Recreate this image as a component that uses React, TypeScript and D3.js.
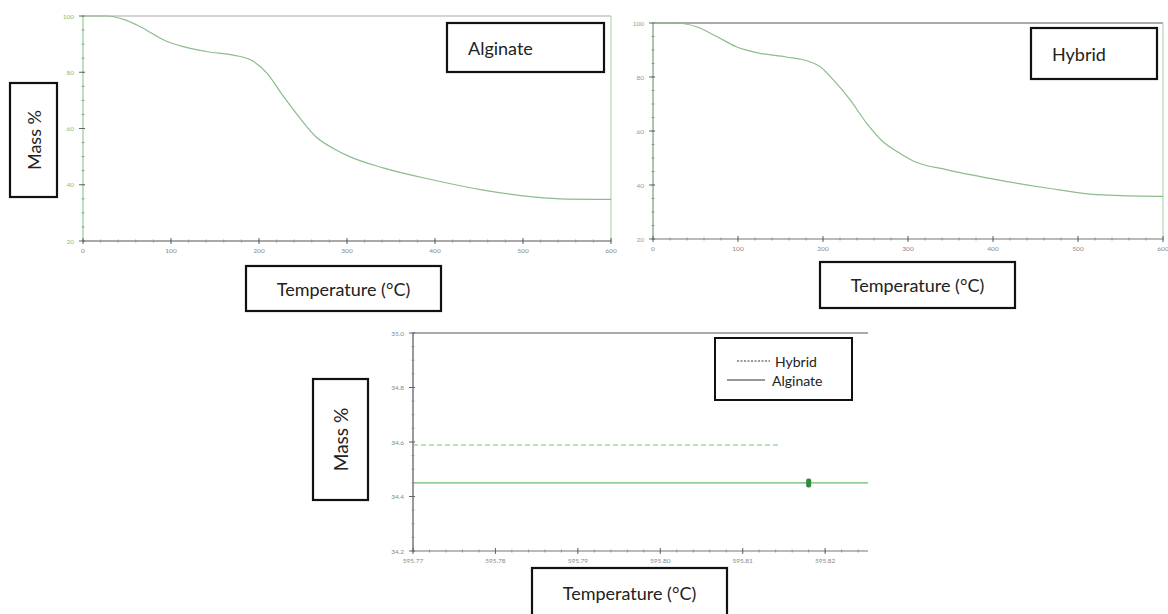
import React from "react";
import * as d3 from "d3";

// ---------- data ----------
const alginateTemp = [0, 27, 48, 65, 95, 114, 141, 171, 193, 209, 228, 247, 265, 284, 303, 341, 398, 455, 511, 550, 600];
const alginateMass = [100, 100, 98.6, 96.2, 91, 89.1, 87.3, 86.1, 84, 79.7, 71.3, 63.5, 57, 53, 50, 46, 41.7, 38.1, 35.7, 34.9, 34.8];

const hybridTemp = [0, 28, 51, 75, 98, 122, 157, 181, 196, 212, 232, 251, 269, 289, 306, 345, 404, 463, 522, 593, 600];
const hybridMass = [100, 100, 98.6, 95, 91.2, 89, 87.4, 86, 84, 79, 71.5, 63, 56.5, 52, 48.9, 45.7, 42, 38.9, 36.4, 35.8, 35.8];

const zoomHybridTemp = [595.77, 595.8143];
const zoomHybridMass = [34.589, 34.589];
const zoomAlginateTemp = [595.77, 595.8252];
const zoomAlginateMass = [34.45, 34.45];
const zoomMarkerTemp = [595.818];
const zoomMarkerMass = [34.45];

const tempTicks = [0, 100, 200, 300, 400, 500, 600];
const massTicks = [20, 40, 60, 80, 100];
const zoomTempTicks = [595.77, 595.78, 595.79, 595.8, 595.81, 595.82];
const zoomMassTicks = [34.2, 34.4, 34.6, 34.8, 35.0];

const legendLabels = ["Hybrid", "Alginate"];

const FONT = "Lato, 'Open Sans', sans-serif";
const CURVE = "#8cbc8c";

type PanelProps = {
  x0: number; x1: number; y0: number; y1: number;
  xDomain: [number, number]; yDomain: [number, number];
  xTicks: number[]; yTicks: number[];
  xMinorStep: number; yMinorStep: number;
  xFmt: (v: number) => string; yFmt: (v: number) => string;
  leftColor: string; bottomColor: string; topColor: string; topWidth: number;
  rightColor?: string; yLabelColor: string;
  children: (x: d3.ScaleLinear<number, number>, y: d3.ScaleLinear<number, number>) => React.ReactNode;
};

function Panel(p: PanelProps) {
  const x = d3.scaleLinear().domain(p.xDomain).range([p.x0, p.x1]);
  const y = d3.scaleLinear().domain(p.yDomain).range([p.y1, p.y0]);
  const xMinor = d3.range(p.xDomain[0], p.xDomain[1] + 1e-9, p.xMinorStep);
  const yMinor = d3.range(p.yDomain[0], p.yDomain[1] + 1e-9, p.yMinorStep);
  return (
    <g>
      <line x1={p.x0} x2={p.x1} y1={p.y0} y2={p.y0} stroke={p.topColor} strokeWidth={p.topWidth} />
      {p.rightColor && <line x1={p.x1} x2={p.x1} y1={p.y0} y2={p.y1} stroke={p.rightColor} strokeWidth={1} />}
      <line x1={p.x0} x2={p.x0} y1={p.y0} y2={p.y1} stroke={p.leftColor} strokeWidth={1.2} />
      <line x1={p.x0} x2={p.x1} y1={p.y1} y2={p.y1} stroke={p.bottomColor} strokeWidth={1.2} />
      {xMinor.map((v, i) => (
        <line key={"xm" + i} x1={x(v)} x2={x(v)} y1={p.y1 - 1.5} y2={p.y1 + 1.5} stroke="#888" strokeWidth={0.8} />
      ))}
      {yMinor.map((v, i) => (
        <line key={"ym" + i} x1={p.x0 - 1.5} x2={p.x0 + 1.5} y1={y(v)} y2={y(v)} stroke="#888" strokeWidth={0.8} />
      ))}
      {p.xTicks.map((v, i) => (
        <g key={"xt" + i}>
          <line x1={x(v)} x2={x(v)} y1={p.y1 - 3} y2={p.y1 + 3} stroke="#666" strokeWidth={1} />
          <text x={x(v)} y={p.y1 + 12} fontSize={6.5} fill="#888" textAnchor="middle" fontFamily={FONT}>{p.xFmt(v)}</text>
        </g>
      ))}
      {p.yTicks.map((v, i) => (
        <g key={"yt" + i}>
          <line x1={p.x0 - 4} x2={p.x0 + 2} y1={y(v)} y2={y(v)} stroke="#666" strokeWidth={1} />
          <text x={p.x0 - 9} y={y(v) + 2.5} fontSize={6.5} fill={p.yLabelColor} textAnchor="end" fontFamily={FONT}>{p.yFmt(v)}</text>
        </g>
      ))}
      {p.children(x, y)}
    </g>
  );
}

function Box({ x, y, w, h, text, rotate = false, size = 18, padLeft }: { x: number; y: number; w: number; h: number; text: string; rotate?: boolean; size?: number; padLeft?: number }) {
  const cx = x + w / 2, cy = y + h / 2;
  const left = padLeft !== undefined;
  return (
    <g>
      <rect x={x} y={y} width={w} height={h} fill="#fff" stroke="#111" strokeWidth={2.2} />
      <text
        x={left ? x + (padLeft as number) : cx} y={cy} fontSize={size} fontFamily={FONT} fill="#222"
        textAnchor={left ? "start" : "middle"} dominantBaseline="central"
        transform={rotate ? `rotate(-90 ${cx} ${cy})` : undefined}
      >{text}</text>
    </g>
  );
}

function linePath(xs: number[], ys: number[], x: d3.ScaleLinear<number, number>, y: d3.ScaleLinear<number, number>, curved = true) {
  const pts = xs.map((t, i) => [t, ys[i]] as [number, number]);
  const gen = d3.line<[number, number]>().x((d) => x(d[0])).y((d) => y(d[1]));
  if (curved) gen.curve(d3.curveMonotoneX);
  return gen(pts) || "";
}

export default function App() {
  return (
    <div style={{ position: "absolute", left: 0, top: 0 }}>
      <svg width={1168} height={614} style={{ display: "block", background: "#fff" }}>
        <Panel
          x0={83} x1={611} y0={16} y1={241}
          xDomain={[0, 600]} yDomain={[20, 100]}
          xTicks={tempTicks} yTicks={massTicks} xMinorStep={20} yMinorStep={5}
          xFmt={(v) => String(v)} yFmt={(v) => String(v)}
          leftColor="#8fcf8f" bottomColor="#555" topColor="#aaa" topWidth={1.2} rightColor="#9fd09f" yLabelColor="#7fbf7f"
        >
          {(x, y) => <path d={linePath(alginateTemp, alginateMass, x, y)} fill="none" stroke={CURVE} strokeWidth={1.2} />}
        </Panel>

        <Panel
          x0={653} x1={1163} y0={23} y1={239}
          xDomain={[0, 600]} yDomain={[20, 100]}
          xTicks={tempTicks} yTicks={massTicks} xMinorStep={20} yMinorStep={5}
          xFmt={(v) => String(v)} yFmt={(v) => String(v)}
          leftColor="#7a9a7a" bottomColor="#777" topColor="#aaa" topWidth={2.2} rightColor="#9fd09f" yLabelColor="#999"
        >
          {(x, y) => <path d={linePath(hybridTemp, hybridMass, x, y)} fill="none" stroke={CURVE} strokeWidth={1.2} />}
        </Panel>

        <Panel
          x0={413} x1={868} y0={333} y1={551}
          xDomain={[595.77, 595.8252]} yDomain={[34.2, 35.0]}
          xTicks={zoomTempTicks} yTicks={zoomMassTicks} xMinorStep={0.002} yMinorStep={0.05}
          xFmt={(v) => v.toFixed(2)} yFmt={(v) => v.toFixed(1)}
          leftColor="#555" bottomColor="#777" topColor="#aaa" topWidth={2.2} yLabelColor="#888"
        >
          {(x, y) => (
            <g>
              <path d={linePath(zoomHybridTemp, zoomHybridMass, x, y, false)} fill="none" stroke="#7fbf7f" strokeWidth={1.2} strokeDasharray="5,3" />
              <path d={linePath(zoomAlginateTemp, zoomAlginateMass, x, y, false)} fill="none" stroke="#6fb86f" strokeWidth={1.2} />
              {zoomMarkerTemp.map((t, i) => (
                <rect key={i} x={x(t) - 2.5} y={y(zoomMarkerMass[i]) - 4.5} width={5} height={9} rx={2} fill="#2e8b3e" />
              ))}
            </g>
          )}
        </Panel>

        <rect x={715} y={338} width={137} height={62} fill="#fff" stroke="#111" strokeWidth={2} />
        <line x1={737} x2={770} y1={361} y2={361} stroke="#333" strokeWidth={1} strokeDasharray="2,1.5" />
        <text x={775} y={361} fontSize={14} fontFamily={FONT} fill="#222" dominantBaseline="central">{legendLabels[0]}</text>
        <line x1={727} x2={765} y1={380} y2={380} stroke="#333" strokeWidth={1.2} />
        <text x={772} y={380} fontSize={14} fontFamily={FONT} fill="#222" dominantBaseline="central">{legendLabels[1]}</text>

        <Box x={10} y={83} w={47} h={114} text="Mass %" rotate size={18} />
        <Box x={447} y={23} w={157} h={49} text="Alginate" size={18} padLeft={21} />
        <Box x={1031} y={28} w={126} h={51} text="Hybrid" size={18} padLeft={21} />
        <Box x={246} y={266} w={195} h={45} text="Temperature (°C)" size={18} />
        <Box x={820} y={262} w={195} h={46} text="Temperature (°C)" size={18} />
        <Box x={313} y={379} w={55} h={121} text="Mass %" rotate size={19} />
        <Box x={532} y={568} w={195} h={50} text="Temperature (°C)" size={18} />
      </svg>
    </div>
  );
}
